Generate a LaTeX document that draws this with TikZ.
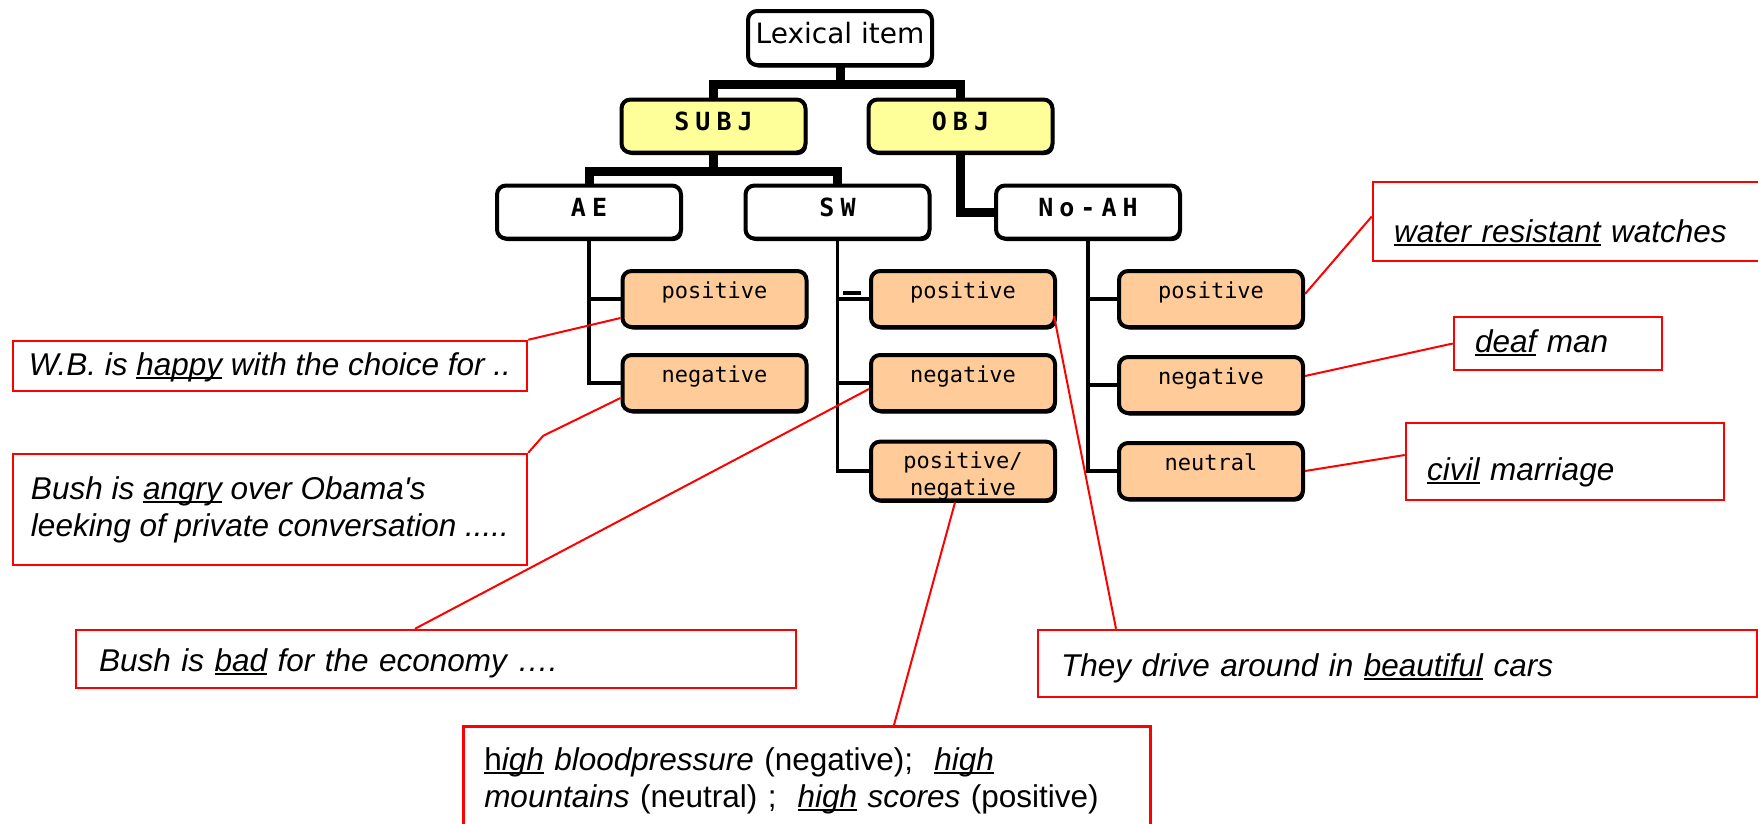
\documentclass[tikz,border=0pt]{standalone}
\usepackage[dvipsnames]{xcolor}
\usepackage{fontspec}
\usetikzlibrary{positioning,shadows}

\newfontfamily\notefont{Liberation Sans}
\newfontfamily\itemfont{DejaVu Sans}
\newfontfamily\tagfont[LetterSpace=24]{DejaVu Sans Mono}
\newfontfamily\leaffont{DejaVu Sans Mono}
\definecolor{subjyellow}{HTML}{FFFF99}
\definecolor{leaforange}{HTML}{FFCC99}
\newsavebox{\ulbox}
\newcommand{\ulword}[1]{\sbox{\ulbox}{#1}\rlap{\rule[-4pt]{\wd\ulbox}{2.2pt}}\usebox{\ulbox}}

\begin{document}
\begin{tikzpicture}[x=1pt,y=-1pt,node distance=86pt,
    box node/.style={rectangle,draw,line width=4pt,rounded corners=9pt,fill=white,inner sep=0pt,
        drop shadow={shadow xshift=1.5pt,shadow yshift=-2.5pt,fill=black,opacity=1}},
    tree node/.style={box node,minimum width=184pt,minimum height=53pt,text depth=10pt,
        font=\tagfont\bfseries\fontsize{25}{30}\selectfont},
    leaf node/.style={box node,fill=leaforange,minimum width=184pt,minimum height=56pt,align=center,
        text height=17pt,text depth=19pt,font=\leaffont\fontsize{22}{27}\selectfont},
    note node/.style={draw=red,line width=2.5pt,inner ysep=0pt,align=left,
        font=\notefont\itshape\fontsize{31.5}{37}\selectfont},
    one line/.style={text height=#1,text depth=7pt},
    trunk/.style={line width=9pt},
    branch/.style={line width=3.5pt},
    leader/.style={red,line width=2pt}]
    \path[use as bounding box,fill=white] (0,0) rectangle (1758,823);

    % tree
    \node [box node,minimum width=184pt,minimum height=54pt,text depth=10pt,
           font=\itemfont\fontsize{28}{32}\selectfont] (lex) at (840,38) {Lexical item};
    \node [tree node,fill=subjyellow] (subj) [below of=lex, xshift=-126.5, yshift=-2] {SUBJ};
    \node [tree node,fill=subjyellow] (obj) [right of=subj, xshift=161] {OBJ};
    \node [tree node] (ae) [below of=subj, xshift=-124.5] {AE};
    \node [tree node] (sw) [right of=ae, xshift=162.5] {SW};
    \node [tree node] (noah) [below of=obj, xshift=127.5] {No-AH};

    \node [leaf node] (aepos) [below of=ae, xshift=125.5, yshift=-1] {positive};
    \node [leaf node] (aeneg) [below of=aepos, yshift=2] {negative};
    \node [leaf node] (swpos) [below of=sw, xshift=125.5, yshift=-1] {positive};
    \node [leaf node] (swneg) [below of=swpos, yshift=2] {negative};
    \node [leaf node,text height={},text depth={}] (swboth) [below of=swneg, yshift=-2]
        {\rule{0pt}{27pt}positive/\\negative};
    \node [leaf node] (nopos) [below of=noah, xshift=123, yshift=-1] {positive};
    \node [leaf node] (noneg) [below of=nopos] {negative};
    \node [leaf node] (noneu) [below of=noneg] {neutral};

    \draw[trunk] (lex.south) -- ++(0,-17pt) -| (subj.north);
    \draw[trunk] (lex.south) -- ++(0,-17pt) -| (obj.north);
    \draw[trunk] (subj.south) -- ++(0,-16.5pt) -| (ae.north);
    \draw[trunk] (subj.south) -- ++(0,-16.5pt) -| (sw.north);
    \draw[trunk] (obj.south) |- (noah.west);

    \draw[branch] (ae.south) |- (aepos.west);
    \draw[branch] (ae.south) |- (aeneg.west);
    \draw[branch] (sw.south) |- (swpos.west);
    \draw[branch] (sw.south) |- (swneg.west);
    \draw[branch] (sw.south) |- (swboth.west);
    \draw[branch] (noah.south) |- (nopos.west);
    \draw[branch] (noah.south) |- (noneg.west);
    \draw[branch] (noah.south) |- (noneu.west);
    \draw[branch] ([xshift=-26pt,yshift=6pt]swpos.west) -- ++(18pt,0);

    % examples
    \node [note node,inner xsep=21pt,text width=375pt,minimum height=79pt,one line=48pt] (wr) at (1581.5,221.5)
        {\ulword{water resistant} watches};
    \node [note node,inner xsep=21pt,text width=166pt,minimum height=53pt,one line=24pt] (deaf) at (1558,343.5)
        {\ulword{deaf} man};
    \node [note node,inner xsep=21pt,text width=276pt,minimum height=77pt,one line=44pt] (civil) at (1565,461.5)
        {\ulword{civil} marriage};
    \node [note node,minimum width=514pt,minimum height=50pt,one line=25pt] (wb) at (270,366)
        {W.B. is \ulword{happy} with the choice for ..};
    \node [note node,minimum width=514pt,minimum height=111pt] (angry) at (270,509.5)
        {Bush is \ulword{angry} over Obama\textquotesingle s\\leeking of private conversation .....};
    \node [note node,inner xsep=23pt,text width=674pt,minimum height=58pt,one line=31pt] (bad) at (436,659)
        {Bush is \ulword{bad} for the economy ….};
    \node [note node,inner xsep=23pt,text width=673pt,minimum height=67pt,one line=32pt] (cars) at (1397.5,663.5)
        {They drive around in \ulword{beautiful} cars};
    \node [note node,inner xsep=21pt,inner ysep=21pt,text width=645pt,anchor=north west] (high) at (462,725)
        {\ulword{\textup{h}igh} bloodpressure \textup{(negative);\ \ }\ulword{high}\\
         mountains \textup{(neutral) ;\ \ }\ulword{high} scores \textup{(positive)}};

    \path[leader]
        (wb.north east) edge ([yshift=-19pt]aepos.west)
        ([xshift=-21pt]bad.north) edge ([yshift=-6pt]swneg.west)
        ([xshift=432pt]high.north west) edge ([xshift=-8pt]swboth.south)
        ([xshift=-281.5pt]cars.north) edge ([xshift=-3pt,yshift=-17pt]swpos.east)
        ([yshift=5pt]wr.west) edge ([yshift=5pt]nopos.east)
        (deaf.west) edge ([yshift=9pt]noneg.east)
        ([yshift=6.5pt]civil.west) edge (noneu.east);
    \draw[leader] (angry.north east) -- ++(15pt,17pt) -- ([yshift=-15pt]aeneg.west);
\end{tikzpicture}
\end{document}
